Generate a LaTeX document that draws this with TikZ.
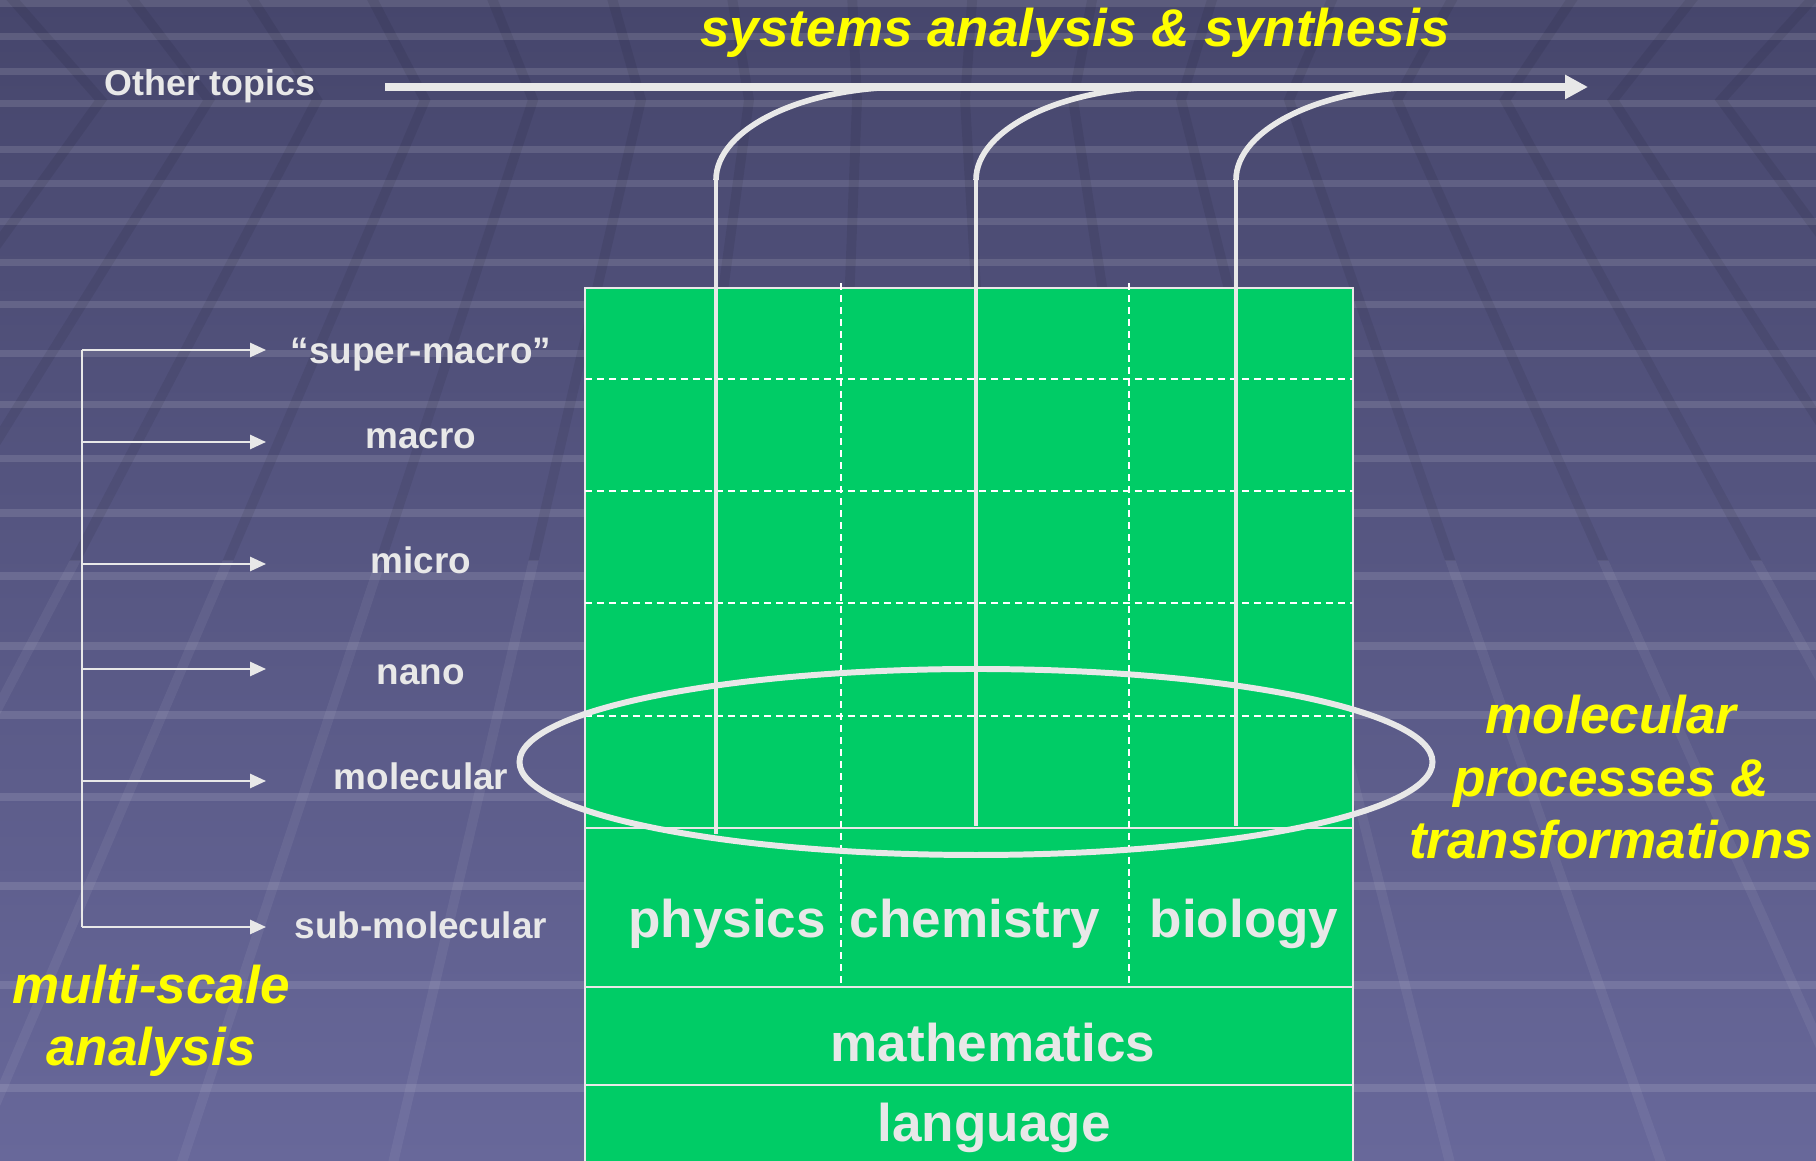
\documentclass[tikz,border=0pt]{standalone}
\usepackage{fontspec}
\setmainfont{Liberation Sans}
\usetikzlibrary{arrows.meta,shapes.geometric}
\definecolor{BGTOP}{HTML}{46466C}
\definecolor{BGBOT}{HTML}{68689A}
\definecolor{LEAF}{HTML}{00CC66}
\definecolor{GLOW}{HTML}{FFFF00}
\definecolor{CHALK}{HTML}{E8E8E8}

% perspective rafters of the slide background
\newcommand{\rafters}[1]{%
  \foreach \k in {-9,...,9} {
    \pgfmathsetmacro{\xk}{8.57+1.08*\k}
    \pgfmathsetmacro{\xb}{\xk+0.9645*(\xk-9)}
    \pgfmathsetmacro{\xt}{\xk+0.12*(\xk-9)}
    \draw[#1] (\xt,11.7) -- (\xk,10.61) -- (\xb,-0.1);
  }}

\begin{document}
\begin{tikzpicture}[
  font=\bfseries,
  big/.style={font=\fontsize{15.1}{17.9}\selectfont\bfseries, text=CHALK, inner sep=0pt, anchor=base},
  hot/.style={font=\fontsize{15.1}{17.9}\selectfont\bfseries\itshape, text=GLOW, inner sep=0pt, anchor=base, align=center},
  lvl/.style={font=\fontsize{10.5}{12}\selectfont\bfseries, text=CHALK, inner sep=0pt, anchor=base},
  cell/.style={draw=CHALK, line width=0.6pt, fill=LEAF},
  gridline/.style={draw=white, line width=0.45pt, dash pattern=on 2pt off 1.4pt},
  tick/.style={-{Triangle[length=4.5pt,width=4pt]}, draw=CHALK, line width=0.6pt},
  flow/.style={-{Triangle[length=6.5pt,width=6.5pt]}, draw=CHALK, line width=2.1pt},
  hook/.style={draw=CHALK, line width=1.6pt},
  riser/.style={draw=CHALK, line width=1pt},
]
\useasboundingbox (0,0) rectangle (18.16,11.61);

% background
\shade[top color=BGTOP, bottom color=BGBOT] (0,0) rectangle (18.16,11.61);
\foreach \y in {11.57,11.24,10.89,10.57,10.11,9.77,9.39,8.98,8.56,8.07,7.56,7.02,6.48,5.85,5.15,4.46,3.64,2.75,1.76,0.73}
  \draw[white, opacity=0.12, line width=2pt] (0,\y) -- (18.16,\y);
\begin{scope}
  \clip (0,6.0) rectangle (18.16,11.61);
  \rafters{black, opacity=0.07, line width=2.8pt}
\end{scope}
\begin{scope}
  \clip (0,0) rectangle (18.16,6.0);
  \rafters{white, opacity=0.06, line width=2.8pt}
\end{scope}

% disciplines stack
\draw[cell] (5.85,3.33) rectangle (13.53,8.73);
\draw[cell] (5.85,1.74) rectangle (13.53,3.33);
\draw[cell] (5.85,0.76) rectangle (13.53,1.74);
\draw[cell] (5.85,-0.1) rectangle (13.53,0.76);
\foreach \y in {7.82,6.70,5.58,4.45}
  \draw[gridline] (5.85,\y) -- (13.53,\y);
\foreach \x in {8.41,11.29}
  \draw[gridline] (\x,8.78) -- (\x,1.74);

\node[big] (phys) at (7.27,2.23) {physics};
\node[big] (chem) at (9.75,2.23) {chemistry};
\node[big] (bio) at (12.44,2.23) {biology};
\node[big] (math) at (9.93,0.995) {mathematics};
\node[big] (lang) at (9.94,0.19) {language};

% risers up to the systems arrow
\foreach \x/\b/\n in {7.16/3.27/1, 9.76/3.35/2, 12.36/3.35/3} {
  \coordinate (foot\n) at (\x,\b);
  \coordinate (knee\n) at (\x,9.81);
  \coordinate (join\n) at (\x+1.91,10.74);
  \draw[riser] (foot\n) -- (knee\n);
  \draw[hook] (knee\n) .. controls +(0,0.51) and +(-1.05,0) .. (join\n);
}

% molecular band
\node[draw=CHALK, line width=1.7pt, ellipse, minimum width=9.13cm, minimum height=1.86cm, inner sep=0pt] (band) at (9.76,3.99) {};

% systems arrow
\node[lvl, font=\fontsize{10.2}{12}\selectfont\bfseries] (other) at (2.10,10.65) {Other topics};
\coordinate (flow-start) at (3.85,10.74);
\coordinate (flow-end) at (15.88,10.74);
\draw[flow] (flow-start) -- (flow-end);
\node[hot] (syn) at (10.75,11.14) {systems analysis \& synthesis};

% scale ladder
\coordinate (spine-top) at (0.82,8.11);
\coordinate (spine-bot) at (0.82,2.34);
\draw[CHALK, line width=0.6pt] (spine-top) -- (spine-bot);
\foreach \y/\yb/\t [count=\i] in {8.11/7.97/{“super-macro”}, 7.19/7.12/macro, 5.97/5.87/micro, 4.92/4.76/nano, 3.80/3.71/molecular, 2.34/2.22/sub-molecular} {
  \coordinate (from\i) at (0.82,\y);
  \coordinate (to\i) at (2.66,\y);
  \draw[tick] (from\i) -- (to\i);
  \node[lvl] (lvl\i) at (4.21,\yb) {\t};
}

% last-line baselines
\node[hot] (multi) at (1.51,0.95) {multi-scale\\analysis};
\node[hot] (proc) at (16.11,3.02) {molecular\\processes \&\\transformations};

\end{tikzpicture}
\end{document}
